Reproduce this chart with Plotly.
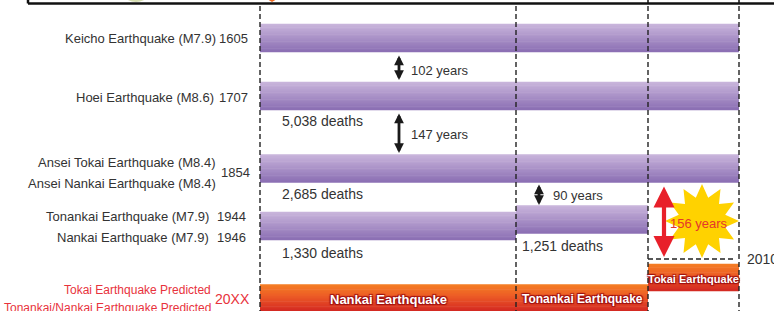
import math
import plotly.graph_objects as go

# ---------------- data ----------------
event_names = ["Keicho Earthquake (M7.9)", "Hoei Earthquake (M8.6)",
               "Ansei Tokai Earthquake (M8.4)", "Ansei Nankai Earthquake (M8.4)",
               "Tonankai Earthquake (M7.9)", "Nankai Earthquake (M7.9)"]
event_years = ["1605", "1707", "1854", "1944", "1946"]
zones = ["Nankai", "Tonankai", "Tokai"]
rupture_rows = ["1605", "1707", "1854", "1944", "1946"]
rupture_first_zone = [0, 0, 0, 1, 0]
rupture_last_zone = [2, 2, 2, 1, 0]
death_labels = ["5,038 deaths", "2,685 deaths", "1,251 deaths", "1,330 deaths"]
death_rows = ["1707", "1854", "1944", "1946"]
death_zone = [0, 0, 1, 0]
interval_years = [102, 147, 90, 156]
predicted_labels = ["Tokai Earthquake Predicted", "Tonankai/Nankai Earthquake Predicted"]
predicted_year = "20XX"
predicted_bar_labels = ["Nankai Earthquake", "Tonankai Earthquake", "Tokai Earthquake"]
predicted_rows = ["pred_nt", "pred_nt", "pred_t"]
current_year = "2010"

# ---------------- layout constants ----------------
W, H = 774, 311
ZONE_EDGES = [260, 516, 648, 739]
ROW_Y = {"1605": 38, "1707": 96, "1854": 168.5, "1944": 219.5, "1946": 226,
         "pred_t": 277.5, "pred_nt": 298}
BAR_H = 28
PRED_H = 27
FONT = "Liberation Sans, Arial, sans-serif"
TXT = "#333333"
RED = "#E8323C"
N_STRIPS = 16


def mix(c1, c2, t):
    a = [int(c1[i:i + 2], 16) for i in (1, 3, 5)]
    b = [int(c2[i:i + 2], 16) for i in (1, 3, 5)]
    return "rgb(%d,%d,%d)" % tuple(round(a[i] + (b[i] - a[i]) * t) for i in range(3))


def grad(stops, t):
    for (t0, c0), (t1, c1) in zip(stops, stops[1:]):
        if t <= t1:
            return mix(c0, c1, (t - t0) / (t1 - t0))
    return stops[-1][1]


def gradient_bars(fig, ys, starts, ends, h, stops):
    for k in range(N_STRIPS):
        t = k / (N_STRIPS - 1)
        fig.add_trace(go.Bar(
            orientation="h",
            y=[y - h / 2 + (k + 0.5) * h / N_STRIPS for y in ys],
            x=[e - s for s, e in zip(starts, ends)],
            base=starts,
            width=h / N_STRIPS + 0.5,
            marker=dict(color=grad(stops, t), line=dict(width=0)),
            hoverinfo="skip", showlegend=False))


fig = go.Figure()

PURPLE = [(0, "#C8B4DB"), (1, "#8C70B4")]
ORANGE = [(0, "#F47C24"), (0.45, "#EC5A26"), (1, "#D42A22")]

# historical ruptures
gradient_bars(fig,
              [ROW_Y[r] for r in rupture_rows],
              [ZONE_EDGES[z] for z in rupture_first_zone],
              [ZONE_EDGES[z + 1] for z in rupture_last_zone],
              BAR_H, PURPLE)

# predicted ruptures
gradient_bars(fig,
              [ROW_Y[r] for r in predicted_rows],
              ZONE_EDGES[:3], ZONE_EDGES[1:], PRED_H, ORANGE)

shapes = []
# frame top
shapes.append(dict(type="line", x0=28, x1=W, y0=3.5, y1=3.5, line=dict(color="#111", width=2.5)))
shapes.append(dict(type="line", x0=28, x1=28, y0=0, y1=3.5, line=dict(color="#111", width=2.5)))
for xs in (648, 739):
    shapes.append(dict(type="line", x0=xs, x1=xs, y0=0, y1=4, line=dict(color="#111", width=1.5)))
shapes.append(dict(type="path", path="M 126 -1 Q 136 5 146 -1 Z", fillcolor="#D5DDB0", line=dict(width=0)))
shapes.append(dict(type="path", path="M 267 -1 L 277 -1 L 272 2 Z", fillcolor="#EE6A22", line=dict(width=0)))

# zone boundaries (dashed)
for xs in ZONE_EDGES:
    shapes.append(dict(type="line", x0=xs, x1=xs, y0=6, y1=H, layer="above",
                       line=dict(color="#222", width=1.4, dash="5px,3px")))
shapes.append(dict(type="line", x0=ZONE_EDGES[2], x1=735, y0=259, y1=259, layer="above",
                   line=dict(color="#222", width=1.4, dash="5px,3px")))

# yellow star
cx, cy, n_pts = 702, 221, 12
pts = []
for i in range(2 * n_pts):
    ang = -math.pi / 2 + i * math.pi / n_pts
    r = (37, 37) if i % 2 == 0 else (24, 24)
    pts.append((cx + r[0] * math.cos(ang), cy + r[1] * math.sin(ang)))
path = "M " + " L ".join("%.1f %.1f" % p for p in pts) + " Z"
shapes.append(dict(type="path", path=path, fillcolor="#FFD200", line=dict(width=0), layer="above"))

ann = []


def text(x, y, s, anchor="left", size=13, color=TXT, bold=False, **kw):
    ann.append(dict(x=x, y=y, text=("<b>%s</b>" % s) if bold else s, showarrow=False,
                    xanchor=anchor, yanchor="middle",
                    font=dict(family=FONT, size=size, color=color, **kw)))


# left labels
text(218, ROW_Y["1605"], event_names[0], anchor="right")
text(250, ROW_Y["1605"], event_years[0], anchor="right")
text(216, ROW_Y["1707"] + 1, event_names[1], anchor="right")
text(250, ROW_Y["1707"] + 1, event_years[1], anchor="right")
text(218, 162, event_names[2], anchor="right")
text(218, 183, event_names[3], anchor="right")
text(252, 172, event_years[2], anchor="right")
text(211, 216, event_names[4], anchor="right")
text(211, 237, event_names[5], anchor="right")
text(248, 216, event_years[3], anchor="right")
text(248, 237, event_years[4], anchor="right")
text(213, 290, predicted_labels[0], anchor="right", size=12, color=RED)
text(213, 308, predicted_labels[1], anchor="right", size=12, color=RED)
text(252, 299, predicted_year, anchor="right", size=14, color=RED)

# deaths
death_dy = {"1707": 25, "1854": 25, "1944": 26, "1946": 27}
for lbl, r, z in zip(death_labels, death_rows, death_zone):
    text(ZONE_EDGES[z] + (20 if z == 0 else 4), ROW_Y[r] + death_dy[r], lbl, size=14)

# intervals
arrow_specs = [(399, 54, 80, 409, 70), (399, 112, 153, 409, 134), (539, 183, 205, 551, 195)]
for yrs, (ax_, y0, y1, tx, ty) in zip(interval_years[:3], arrow_specs):
    ann.append(dict(x=ax_, y=y1, ax=ax_, ay=y0, axref="x", ayref="y", xref="x", yref="y",
                    text="", showarrow=True, arrowside="end+start", arrowhead=2,
                    startarrowhead=2, arrowsize=0.7, startarrowsize=0.7, arrowwidth=2.8,
                    arrowcolor="#1a1a1a", standoff=0, startstandoff=0))
    text(tx, ty, "%d years" % yrs, size=13)

ann.append(dict(x=664, y=257, ax=664, ay=185, axref="x", ayref="y", xref="x", yref="y",
                text="", showarrow=True, arrowside="end+start", arrowhead=2,
                startarrowhead=2, arrowsize=1.0, startarrowsize=1.0, arrowwidth=4.2,
                arrowcolor="#E8202A", standoff=0, startstandoff=0))
text(699, 223, "%d years" % interval_years[3], anchor="center", size=13, color="#E5372B")
text(745, 259, current_year, size=14)

# predicted bar labels
sizes = [13, 12, 11]
for lbl, r, z, s in zip(predicted_bar_labels, predicted_rows, range(3), sizes):
    text((ZONE_EDGES[z] + ZONE_EDGES[z + 1]) / 2, ROW_Y[r] + 1, lbl, anchor="center", size=s,
         color="white", bold=True,
         shadow="1px 1px 1px #9E1010, -1px -1px 1px #9E1010, 1px -1px 1px #9E1010, -1px 1px 1px #9E1010")

fig.update_layout(
    width=W, height=H, margin=dict(l=0, r=0, t=0, b=0),
    paper_bgcolor="white", plot_bgcolor="white",
    barmode="overlay", showlegend=False,
    xaxis=dict(range=[0, W], visible=False, fixedrange=True),
    yaxis=dict(range=[H, 0], visible=False, fixedrange=True),
    shapes=shapes, annotations=ann,
)

fig.write_html("out.html", config={"displayModeBar": False},
               post_script="document.body.style.margin='0';")
